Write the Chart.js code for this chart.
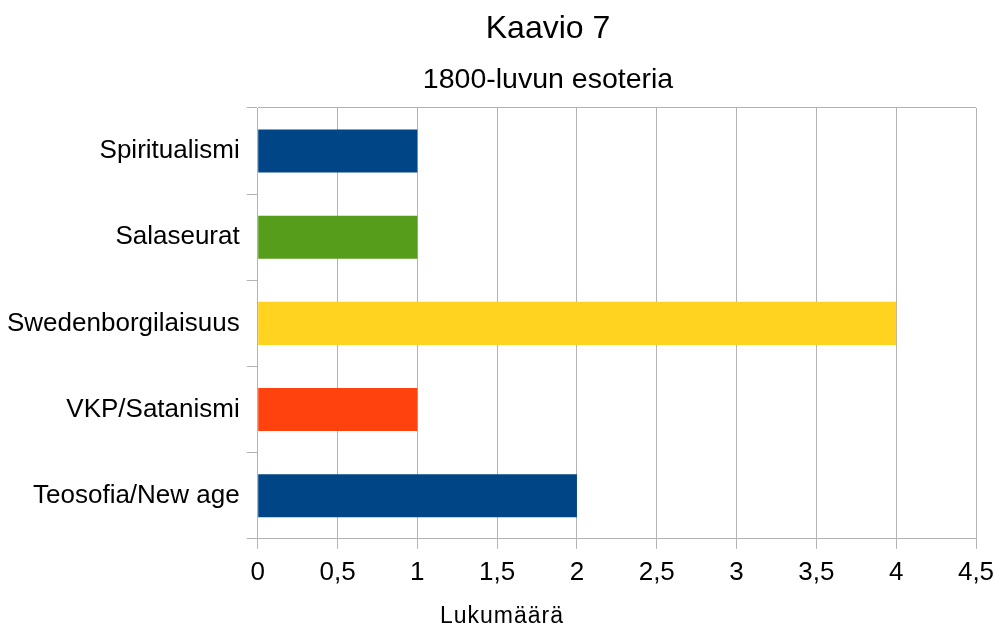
<!DOCTYPE html>
<html>
<head>
<meta charset="utf-8">
<script src="https://cdn.jsdelivr.net/npm/chart.js@4"></script>
<style>
  html, body { margin: 0; padding: 0; background: #ffffff; }
  #wrap { width: 999px; height: 628px; }
</style>
</head>
<body>
<div id="wrap"><canvas id="barChart7" width="999" height="628"></canvas></div>
<script>
// Data
const categories = ["Spiritualismi", "Salaseurat", "Swedenborgilaisuus", "VKP/Satanismi", "Teosofia/New age"];
const counts = [1, 1, 4, 1, 2];
const barColors = ["#004586", "#579d1c", "#ffd320", "#ff420e", "#004586"];
const chartTitle = "Kaavio 7";
const chartSubtitle = "1800-luvun esoteria";
const xAxisTitle = "Lukumäärä";

const FONT = "'Liberation Sans', Arial, sans-serif";
const GRID = "#b3b3b3";

// Titles are drawn by hand so they sit where the original puts them
const titlePlugin = {
  id: "titles",
  afterDraw(chart) {
    const c = chart.ctx;
    c.save();
    c.fillStyle = "#000000";
    c.textAlign = "center";
    c.textBaseline = "middle";
    c.font = "32px " + FONT;
    c.fillText(chartTitle, 548, 29);
    c.font = "28.5px " + FONT;
    c.fillText(chartSubtitle, 548, 80);
    c.font = "23px " + FONT;
    c.letterSpacing = "1px";
    c.fillText(xAxisTitle, 502, 617);
    c.restore();
  },
};

const ctx = document.getElementById("barChart7").getContext("2d");
new Chart(ctx, {
  type: "bar",
  data: {
    labels: categories,
    datasets: [
      {
        data: counts,
        backgroundColor: barColors,
        borderWidth: 0,
        barPercentage: 0.5,
        categoryPercentage: 1,
      },
    ],
  },
  options: {
    indexAxis: "y",
    responsive: false,
    animation: false,
    layout: {
      padding: { top: 108, bottom: 32, left: 0, right: 0 },
    },
    scales: {
      x: {
        min: 0,
        max: 4.5,
        // the last label may hang a little past the plot, as in the original
        afterFit: (s) => { s.paddingRight = 23; },
        ticks: {
          stepSize: 0.5,
          color: "#000000",
          font: { family: FONT, size: 26 },
          padding: 8,
          callback: (v) => String(v).replace(".", ","),
        },
        grid: { color: GRID, tickLength: 10, tickColor: GRID },
        border: { color: GRID },
      },
      y: {
        offset: true,
        ticks: {
          color: "#000000",
          font: { family: FONT, size: 26 },
          padding: 7,
        },
        grid: {
          offset: true,
          tickLength: 11,
          tickColor: GRID,
          // only the top and bottom lines cross the plot
          color: (c) => (c.index === 0 || c.index === categories.length ? GRID : "rgba(0,0,0,0)"),
        },
        border: { color: GRID },
      },
    },
    plugins: {
      legend: { display: false },
      tooltip: { enabled: false },
    },
  },
  plugins: [titlePlugin],
});
</script>
</body>
</html>
